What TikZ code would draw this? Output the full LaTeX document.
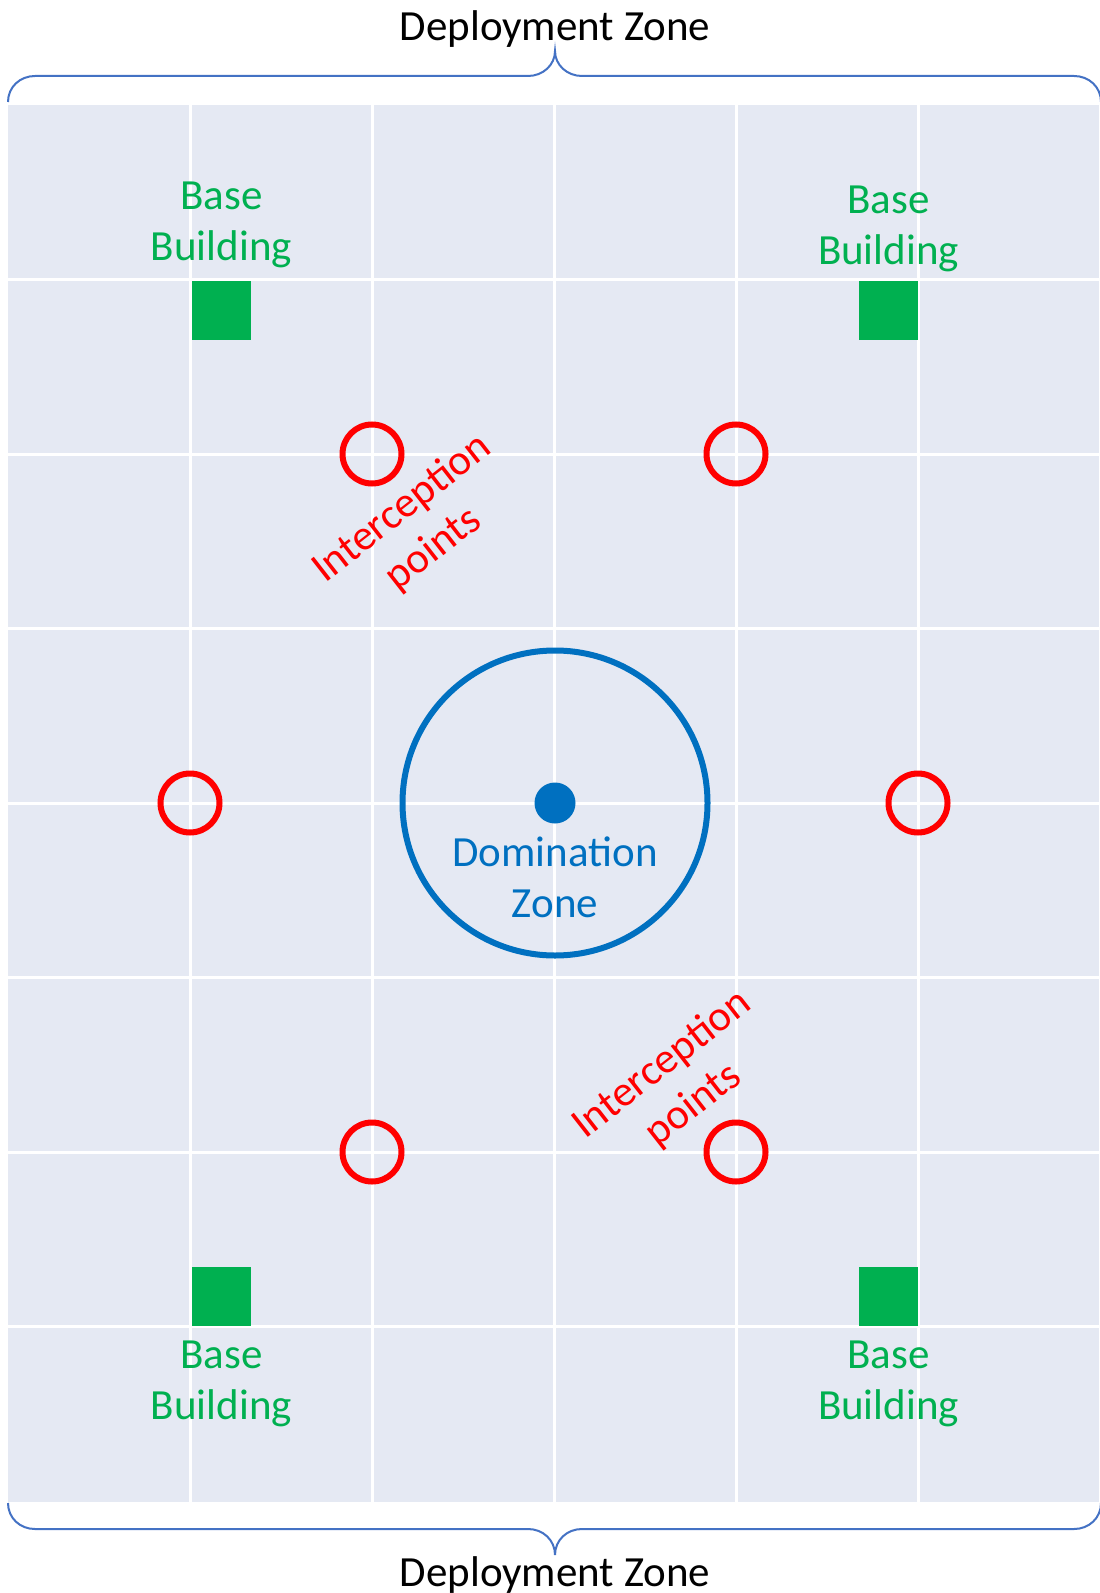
\documentclass[tikz,border=0pt]{standalone}
\usepackage{fontspec}
\setmainfont{Carlito}
\usepackage{xcolor}
\usepackage{tikz}
\usetikzlibrary{positioning}
\definecolor{field}{HTML}{E5E9F3}
\definecolor{basegreen}{HTML}{00B050}
\definecolor{ptred}{HTML}{FF0000}
\definecolor{zoneblue}{HTML}{0070C0}
\definecolor{bracecol}{HTML}{4472C4}
\tikzset{
  gl/.style={draw=white,line width=1.5pt},
  bld/.style={rectangle,fill=basegreen,minimum size=29.5pt,inner sep=0pt},
  blbl/.style={text=basegreen,align=center,inner sep=0pt,
    font=\fontsize{21.5}{25.5}\selectfont},
  ip/.style={circle,draw=ptred,line width=3pt,minimum size=29.5pt,inner sep=0pt},
  iplbl/.style={text=ptred,align=center,inner sep=0pt,rotate=38,
    font=\fontsize{21.5}{25.5}\selectfont},
  brc/.style={draw=bracecol,line width=1pt},
  dzlbl/.style={anchor=base,inner sep=0pt,font=\fontsize{21.5}{25.5}\selectfont},
}

\begin{document}
\begin{tikzpicture}[x=0.5pt,y=-0.5pt]
  \useasboundingbox (0,0) rectangle (1099,1593);
  % field and grid
  \fill[field] (8,105) rectangle (1099,1502);
  \draw[gl] (190,105)--(190,1502); \draw[gl] (372,105)--(372,1502); \draw[gl] (554,105)--(554,1502);
  \draw[gl] (736,105)--(736,1502); \draw[gl] (918,105)--(918,1502);
  \draw[gl] (8,279.5)--(1099,279.5); \draw[gl] (8,454)--(1099,454); \draw[gl] (8,628.5)--(1099,628.5);
  \draw[gl] (8,803)--(1099,803); \draw[gl] (8,977.5)--(1099,977.5); \draw[gl] (8,1152)--(1099,1152);
  \draw[gl] (8,1326.5)--(1099,1326.5);
  % deployment zones
  \draw[brc] (8,102) .. controls (8,87) and (20,76) .. (35,76) -- (528,76)
    .. controls (543,76) and (555,65) .. (555,51) .. controls (555,65) and (567,76) .. (582,76)
    -- (1074,76) .. controls (1089,76) and (1101,87) .. (1101,102);
  \draw[brc] (8,1503) .. controls (8,1518) and (20,1529) .. (35,1529) -- (528,1529)
    .. controls (543,1529) and (555,1540) .. (555,1555) .. controls (555,1540) and (567,1529) .. (582,1529)
    -- (1074,1529) .. controls (1089,1529) and (1101,1518) .. (1101,1503);
  \node[dzlbl] (dztop) at (555,41) {Deployment Zone};
  \node[dzlbl] (dzbot) at (555,1586) {Deployment Zone};
  % base buildings
  \node[bld] (tl) at (221.5,310.5) {};
  \node[bld] (tr) at (888.5,310.5) {};
  \node[bld] (bl) at (221.5,1296.5) {};
  \node[bld] (br) at (888.5,1296.5) {};
  \node[blbl,above=6pt of tl] (tllbl) {Base\\Building};
  \node[blbl,above=4pt of tr] (trlbl) {Base\\Building};
  \node[blbl,below=7pt of bl] (bllbl) {Base\\Building};
  \node[blbl,below=7pt of br] (brlbl) {Base\\Building};
  % interception points
  \node[ip] (i1) at (372,454) {};
  \node[ip] (i2) at (736,454) {};
  \node[ip] (i3) at (190,803) {};
  \node[ip] (i4) at (918,803) {};
  \node[ip] (i5) at (372,1152) {};
  \node[ip] (i6) at (736,1152) {};
  \node[iplbl] (iptop) at (418,529) {Interception\\points};
  \node[iplbl] (ipbot) at (678,1085) {Interception\\points};
  % domination zone
  \node[circle,draw=zoneblue,line width=3pt,minimum size=152.5pt,inner sep=0pt] (dz) at (555,803) {};
  \node[circle,fill=zoneblue,minimum size=20.5pt,inner sep=0pt] (dot) at (555,803) {};
  \node[blbl,text=zoneblue,below=6pt of dot] (dzlabel) {Domination\\Zone};
\end{tikzpicture}
\end{document}
